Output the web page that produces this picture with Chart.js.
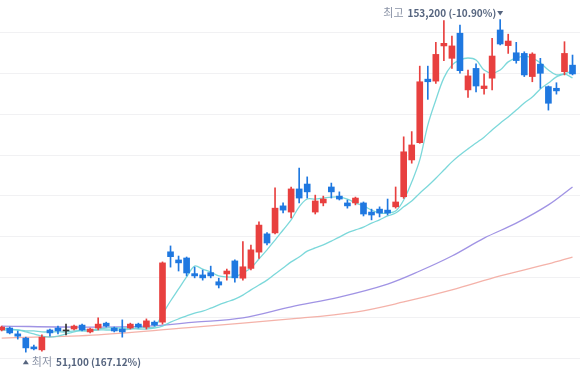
<!DOCTYPE html>
<html>
<head>
<meta charset="utf-8">
<script src="https://cdn.jsdelivr.net/npm/chart.js@4"></script>
<style>
  html, body { margin: 0; padding: 0; background: #fff; }
  #wrap { width: 580px; height: 372px; }
</style>
</head>
<body>
<div id="wrap"><canvas id="chart" width="580" height="372"></canvas></div>
<script>
// Daily candles (KRW), oldest first. Red = up day, blue = down day.
const opens = [
  57900, 58500, 56700, 55400, 52700, 51800, 57900, 58500, 57600, 58200,
  59400, 57300, 58500, 60000, 58500, 58200, 58500, 59700, 58800, 60300,
  60300, 81900, 79400, 80000, 75200, 74800, 75500, 72700, 75100, 79100,
  73800, 76800, 81800, 87400, 87700, 96000, 94100, 101200, 102700, 94100,
  96900, 101800, 99000, 96900, 96900, 96900, 94100, 95000, 94700, 95700,
  98800, 110100, 115400, 134900, 134300, 145100, 141300, 149000, 131600, 138200,
  132000, 135200, 150000, 145200, 143000, 142800, 135700, 139500, 132600, 132100,
  137200, 139200
];
const closes = [
  58800, 57000, 56000, 52400, 52100, 55700, 57000, 57600, 57600, 59100,
  57900, 58200, 59700, 59100, 57600, 57300, 59700, 58800, 60700, 59400,
  78500, 80400, 78500, 75400, 74500, 73900, 74500, 71700, 76000, 73900,
  77300, 82500, 90100, 84600, 95300, 94700, 101200, 98400, 100300, 97500,
  98100, 100300, 98100, 96000, 98400, 93500, 93200, 93800, 93800, 97200,
  112600, 114700, 134100, 134100, 142500, 145900, 145100, 137500, 135900, 132800,
  132800, 142000, 145700, 146600, 140600, 136200, 142600, 136700, 127500, 131300,
  142800, 136500
];
const highs = [
  59100, 58800, 57600, 55700, 53300, 56400, 58200, 59100, 59700, 59400,
  59700, 58500, 61600, 60300, 58800, 61000, 60000, 60000, 61300, 60700,
  78800, 83700, 80600, 80300, 77200, 76300, 77500, 73800, 76600, 79400,
  85000, 84000, 91100, 87800, 101500, 96900, 101800, 107600, 104900, 99300,
  99000, 103000, 100300, 97800, 98700, 97200, 95000, 95700, 98100, 101800,
  117200, 118800, 138900, 138900, 146200, 152900, 148100, 151500, 137700, 139600,
  136500, 147400, 153200, 148700, 146200, 143300, 143000, 141300, 132800, 133800,
  146400, 142300
];
const lows = [
  57600, 56700, 55100, 51100, 51800, 51400, 56000, 56700, 56400, 57900,
  57600, 57000, 57900, 58800, 57300, 55700, 58200, 58500, 58200, 59100,
  59700, 77200, 76000, 74500, 73900, 73200, 73900, 70800, 73200, 72600,
  73200, 76300, 79900, 84000, 87400, 93800, 92300, 96900, 98400, 93500,
  96000, 98400, 97800, 95300, 96300, 92900, 91700, 92600, 93200, 95300,
  98300, 109100, 115200, 128700, 133600, 140600, 138200, 136700, 129300, 131000,
  130300, 131600, 145400, 142800, 139800, 135700, 134100, 132100, 125400, 130300,
  136200, 136200
];

// Moving averages
const ma5 = [
  58500, 58200, 57900, 57300, 56700, 56000, 55700, 56000, 56700, 57300,
  57900, 57900, 58200, 58500, 58500, 58500, 58500, 58500, 58800, 58800,
  62800, 66800, 70500, 74200, 77500, 76600, 75700, 74500, 74200, 74200,
  75400, 76900, 79700, 82500, 85500, 88600, 91700, 95700, 98100, 98100,
  98400, 98700, 98700, 98100, 96900, 96000, 94700, 93800, 93800, 94400,
  97800, 103300, 110100, 120800, 128500, 135300, 139200, 140800, 141400, 140800,
  137700, 136800, 137700, 140200, 141400, 142000, 141400, 139900, 137700, 136200,
  136500, 135300
];
const ma20 = [
  57900, 57900, 57900, 57600, 57600, 57300, 57300, 57300, 57300, 57600,
  57600, 57600, 57900, 57900, 57900, 57900, 58200, 58200, 58200, 58500,
  59100, 60300, 61300, 62200, 63100, 63700, 64600, 65600, 66500, 67400,
  68600, 70200, 71700, 73200, 75100, 76900, 78800, 80300, 82100, 83100,
  84000, 85200, 86400, 87700, 88600, 89500, 90700, 91700, 92900, 93800,
  95700, 97500, 99900, 102100, 104500, 107000, 109500, 111600, 113500, 115300,
  117100, 119300, 121400, 123300, 125400, 127600, 129400, 131900, 133700, 135600,
  136500, 137400
];
const ma60Idx = [0, 10, 18, 24, 30, 36, 42, 48, 52, 56, 60, 64, 68, 71];
const ma60 = [59100, 58800, 59100, 60300, 61600, 65000, 68000, 72000, 76000, 80600, 86100, 90700, 96300, 101800];
const ma120Idx = [0, 12, 24, 36, 44, 50, 56, 62, 68, 71];
const ma120 = [55400, 56400, 58800, 61300, 63400, 66500, 70200, 74500, 78200, 80300];

// Horizontal guide lines (values only, labels are not shown)
const gridTicks = [149100, 136600, 124100, 111600, 99100, 86600, 74100, 61600, 49100];

const highLabel = ['최고', '153,200 (-10.90%)'];
const lowLabel = ['최저', '51,100 (167.12%)'];

const UP = '#e8403f', DOWN = '#1f78e0', FLAT = '#333333';
const candleColor = opens.map((o, i) => closes[i] > o ? UP : closes[i] < o ? DOWN : FLAT);
const idx = opens.map((_, i) => i);

// Price text above the max candle and below the min candle
const extremaLabels = {
  id: 'extremaLabels',
  afterDatasetsDraw(chart) {
    const { ctx, scales: { x, y } } = chart;
    const hi = highs.indexOf(Math.max(...highs));
    const lo = lows.indexOf(Math.min(...lows));
    const labelFont = '11px "Noto Sans CJK KR", sans-serif';
    const numFont = 'bold 10px "Noto Sans CJK KR", sans-serif';
    ctx.save();
    ctx.textBaseline = 'middle';

    // top: "최고 153,200 (-10.90%)▼", triangle sits over the candle
    let cx = x.getPixelForValue(hi);
    let cy = y.getPixelForValue(highs[hi]) - 6.5;
    ctx.fillStyle = '#56657f';
    ctx.beginPath();
    ctx.moveTo(cx - 3, cy - 2);
    ctx.lineTo(cx + 3, cy - 2);
    ctx.lineTo(cx, cy + 2.5);
    ctx.closePath();
    ctx.fill();
    ctx.textAlign = 'right';
    ctx.font = numFont;
    ctx.fillStyle = '#56657f';
    let tx = cx - 4;
    ctx.fillText(highLabel[1], tx, cy);
    tx -= ctx.measureText(highLabel[1]).width + 4;
    ctx.font = labelFont;
    ctx.fillStyle = '#8a93a6';
    ctx.fillText(highLabel[0], tx, cy);

    // bottom: "▲ 최저 51,100 (167.12%)"
    cx = x.getPixelForValue(lo);
    cy = y.getPixelForValue(lows[lo]) + 10;
    ctx.fillStyle = '#56657f';
    ctx.beginPath();
    ctx.moveTo(cx - 3, cy + 2);
    ctx.lineTo(cx + 3, cy + 2);
    ctx.lineTo(cx, cy - 2.5);
    ctx.closePath();
    ctx.fill();
    ctx.textAlign = 'left';
    tx = cx + 6;
    ctx.font = labelFont;
    ctx.fillStyle = '#8a93a6';
    ctx.fillText(lowLabel[0], tx, cy);
    tx += ctx.measureText(lowLabel[0]).width + 4;
    ctx.font = numFont;
    ctx.fillStyle = '#56657f';
    ctx.fillText(lowLabel[1], tx, cy);
    ctx.restore();
  }
};

const lineDs = (label, pts, color) => ({
  type: 'line', label, data: pts, borderColor: color, borderWidth: 1.3,
  pointRadius: 0, tension: 0.35, order: 3
});

new Chart(document.getElementById('chart'), {
  type: 'bar',
  data: {
    datasets: [
      {
        label: 'wick',
        data: idx.map(i => ({ x: i, y: [lows[i], highs[i]] })),
        backgroundColor: candleColor, barThickness: 1, grouped: false, order: 2
      },
      {
        label: 'body',
        data: idx.map(i => ({ x: i, y: [opens[i], closes[i]] })),
        backgroundColor: candleColor, barThickness: 6, minBarLength: 1,
        grouped: false, order: 1
      },
      lineDs('MA5', idx.map(i => ({ x: i, y: ma5[i] })), 'rgba(110, 212, 214, 0.9)'),
      lineDs('MA20', idx.map(i => ({ x: i, y: ma20[i] })), 'rgba(110, 212, 214, 0.9)'),
      lineDs('MA60', ma60Idx.map((i, k) => ({ x: i, y: ma60[k] })), 'rgba(150, 135, 225, 0.9)'),
      lineDs('MA120', ma120Idx.map((i, k) => ({ x: i, y: ma120[k] })), 'rgba(243, 170, 160, 0.9)')
    ]
  },
  options: {
    responsive: false,
    animation: false,
    layout: { padding: 0 },
    plugins: { legend: { display: false }, tooltip: { enabled: false } },
    scales: {
      x: { type: 'linear', min: -0.21, max: 71.93, offset: false, display: false },
      y: {
        min: 45000, max: 159200,
        afterBuildTicks: s => { s.ticks = gridTicks.map(v => ({ value: v })); },
        afterFit: s => { s.width = 0; },
        ticks: { display: false },
        border: { display: false },
        grid: { color: '#f1f1f3', drawTicks: false }
      }
    }
  },
  plugins: [extremaLabels]
});
</script>
</body>
</html>
